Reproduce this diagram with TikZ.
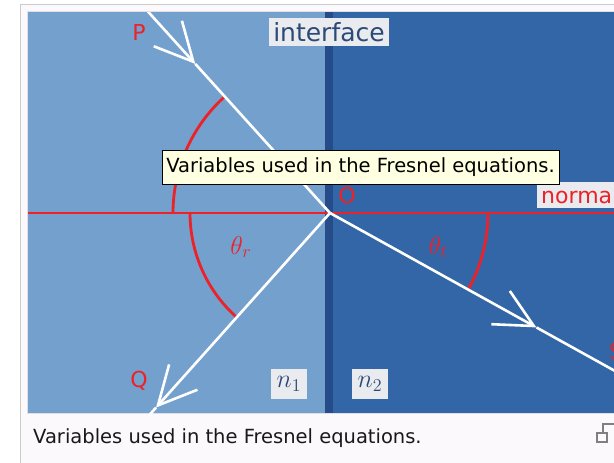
\documentclass[tikz,border=0pt]{standalone}
\usepackage{fontspec}
\setmainfont{DejaVu Sans}
\usetikzlibrary{arrows.meta,calc}
\definecolor{MediumOne}{RGB}{116,160,206}
\definecolor{MediumTwo}{RGB}{51,102,166}
\definecolor{InterfaceBlue}{RGB}{37,76,136}
\definecolor{RayRed}{RGB}{236,34,40}
\definecolor{TagGray}{RGB}{233,235,239}
\definecolor{TextBlue}{RGB}{44,74,120}
\definecolor{TipYellow}{RGB}{255,255,225}
\definecolor{FrameGray}{RGB}{204,204,204}
\definecolor{FrameFill}{RGB}{252,249,252}

\begin{document}
\begin{tikzpicture}[x=1pt, y=-1pt,
    every node/.style={inner sep=0pt},
    ray/.style      ={white, line width=2.6pt},
    barb/.style     ={-{Straight Barb[length=38pt, width=38pt]}},
    redline/.style  ={RayRed, line width=2.8pt},
    ptlabel/.style  ={text=RayRed, font=\fontsize{22}{26}\selectfont},
    tag/.style      ={fill=TagGray, inner xsep=4pt, inner ysep=4pt},
    anglelbl/.style ={text=RayRed, font=\fontsize{17}{20}\selectfont, scale=1.5},
    idxlbl/.style   ={fill=TagGray, text=TextBlue, font=\fontsize{17}{20}\selectfont, scale=1.5,
                      minimum width=24pt, minimum height=20pt},
    uifont/.style   ={font=\fontsize{19.5}{23}\selectfont},
  ]
  \clip (0,0) rectangle (614,463);
  \fill[white] (0,0) rectangle (614,463);

  % frame of the thumbnail
  \draw[FrameGray, fill=FrameFill] (20.5,4.5) rectangle (660,480);
  \draw[FrameGray!60] (27.5,11.5) rectangle (660,413.5);

  \coordinate (O) at (330,213);

  \begin{scope}
    \clip (28,12) rectangle (660,413);
    % the two media
    \fill[MediumOne]     (28,12)  rectangle (325,413);
    \fill[InterfaceBlue] (325,12) rectangle (333,413);
    \fill[MediumTwo]     (333,12) rectangle (660,413);

    % normal
    \draw[redline] (20,213) -- (660,213);

    % angles
    \draw[redline] (O) ++(180:157) arc[start angle=180, end angle=227.9, radius=157];
    \draw[redline] (O) ++(180:140) arc[start angle=180, end angle=131.8, radius=140];
    \draw[redline] (O) ++(0:158)   arc[start angle=0,   end angle=29,    radius=158];

    % rays
    \coordinate (Pfar) at ($(O)+(227.9:300)$);
    \coordinate (Ptip) at ($(O)+(227.9:201)$);
    \coordinate (Qtip) at ($(O)+(131.8:261)$);
    \coordinate (Qfar) at ($(O)+(131.8:320)$);
    \coordinate (Stip) at ($(O)+(29:236)$);
    \coordinate (Sfar) at ($(O)+(29:400)$);
    \draw[ray, barb] (Pfar) -- (Ptip);
    \draw[ray] (Ptip) -- (O);
    \draw[ray, barb] (O) -- (Qtip);
    \draw[ray] (Qtip) -- (Qfar);
    \draw[ray, barb] (O) -- (Stip);
    \draw[ray] (Stip) -- (Sfar);

    % labels
    \node[tag, text=TextBlue, font=\fontsize{25}{29}\selectfont] (iface) at (329,32) {interface};
    \node[tag, text=RayRed, font=\fontsize{22}{26}\selectfont, anchor=west] (norm) at (537,195) {normal};
    \node[ptlabel] (P) at (139,32) {P};
    \node[ptlabel] (Q) at (139,381) {Q};
    \node[ptlabel] (Olbl) at (347,195) {O};
    \node[ptlabel, anchor=west] (S) at (609,351) {S};
    \node[anglelbl] (thr) at (241,247) {$\theta_r$};
    \node[anglelbl] (tht) at (438,247) {$\theta_t$};
    \node[idxlbl] (n1) at (289,384) {$n_1$};
    \node[idxlbl] (n2) at (370,384) {$n_2$};
  \end{scope}

  % tooltip and caption
  \node[uifont, draw=black, line width=1pt, fill=TipYellow, minimum width=397pt, minimum height=34pt] (tooltip) at (360.5,167) {Variables used in the Fresnel equations.};
  \node[uifont, text=black!90, anchor=west] (caption) at (33,438) {Variables used in the Fresnel equations.};

  % enlarge icon
  \draw[gray, line width=1.4pt] (597,433) rectangle (607,442);
  \draw[gray, line width=1.4pt] (603,433) -- (603,424) -- (620,424);
\end{tikzpicture}
\end{document}
